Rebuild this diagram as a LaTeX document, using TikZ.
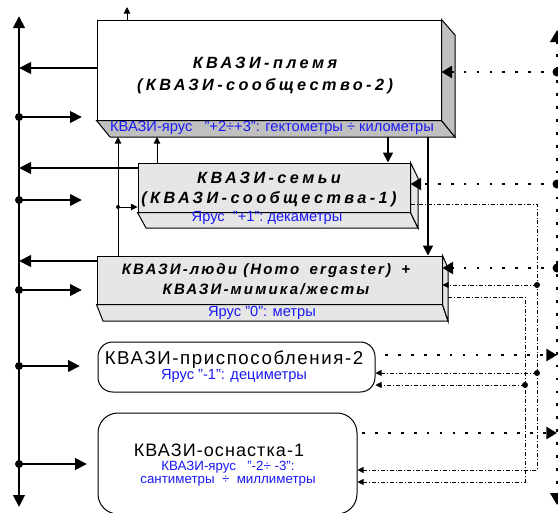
\documentclass[tikz,border=0pt]{standalone}
\usepackage{fontspec}
\setmainfont{Liberation Sans}
\newfontfamily\ttlfont[LetterSpace=21]{Liberation Sans}
\newfontfamily\ttlfontB[LetterSpace=14]{Liberation Sans}
\newfontfamily\bigfont[LetterSpace=8.5]{Liberation Sans}
\newfontfamily\bigfontB[LetterSpace=6]{Liberation Sans}
\usetikzlibrary{arrows.meta,fit,calc}
\definecolor{lblblue}{RGB}{25,25,245}
\definecolor{gA}{RGB}{192,192,192}
\definecolor{gB}{RGB}{230,230,230}
\begin{document}
\begin{tikzpicture}[x=0.75pt,y=-0.75pt,
  boxface/.style={draw, inner sep=0pt, line width=0.75pt},
  ttl/.style={font=\ttlfont\bfseries\itshape\fontsize{12.2}{16.5}\selectfont, align=center, inner sep=0pt},
  bigtxt/.style={font=\bigfont\fontsize{14}{15}\selectfont, inner sep=0pt},
  lbl/.style={text=lblblue, font=\fontsize{11}{12}\selectfont, inner sep=0pt, align=center},
  bigarr/.style={line width=2.2pt, -{Triangle[length=9pt,width=8.5pt]}},
  medarr/.style={line width=1.4pt, -{Triangle[length=7.5pt,width=7.5pt]}},
  thinarr/.style={line width=0.7pt, -{Triangle[length=5pt,width=5pt]}},
  dotl/.style={line width=2.1pt, dash pattern=on 2.1pt off 7.6pt},
  dotarr/.style={-{Triangle[length=8pt,width=9pt]}},
  dd/.style={line width=0.65pt, dash pattern=on 3pt off 1.5pt on 0.7pt off 1.5pt},
  ddarr/.style={-{Triangle[length=4.5pt,width=4.5pt]}}
]
\useasboundingbox (0,0) rectangle (558,512);

% ---------- box 1 ----------
\node[boxface, fill=white, fit={(97,20) (441,120)}] (b1) {};
\coordinate (b1bl) at (110,137);
\coordinate (b1br) at (455,137);
\coordinate (b1tr) at (455,35);
\draw[fill=gA, line width=0.75pt] (b1.south west) -- (b1.south east) -- (b1br) -- (b1bl) -- cycle;
\draw[fill=gA, line width=0.75pt] (b1.north east) -- (b1tr) -- (b1br) -- (b1.south east) -- cycle;
\node[ttl] (t1) at (265,76) {КВАЗИ-племя\\(КВАЗИ-сообщество-2)};
\node[lbl] (l1) at (272,128) {КВАЗИ-ярус\ \ \ "+2÷+3": гектометры ÷ километры};

% ---------- box 2 ----------
\node[boxface, fill=gB, fit={(138,163) (410,212)}] (b2) {};
\coordinate (b2bl) at (146,228);
\coordinate (b2br) at (418,228);
\coordinate (b2tr) at (418,178);
\draw[fill=gB, line width=0.75pt] (b2.south west) -- (b2.south east) -- (b2br) -- (b2bl) -- cycle;
\draw[fill=gB, line width=0.75pt] (b2.north east) -- (b2tr) -- (b2br) -- (b2.south east) -- cycle;
\node[ttl, font=\ttlfont\bfseries\itshape\fontsize{12.2}{15}\selectfont] (t2) at (269,190) {КВАЗИ-семьи\\(КВАЗИ-сообщества-1)};
\node[lbl] (l2) at (267,218) {Ярус\ \ "+1":\ декаметры};

% ---------- box 3 ----------
\node[boxface, fill=gB, fit={(97,256) (442,304)}] (b3) {};
\coordinate (b3bl) at (103,321);
\coordinate (b3br) at (448,321);
\coordinate (b3tr) at (448,268);
\draw[fill=gB, line width=0.75pt] (b3.south west) -- (b3.south east) -- (b3br) -- (b3bl) -- cycle;
\draw[fill=gB, line width=0.75pt] (b3.north east) -- (b3tr) -- (b3br) -- (b3.south east) -- cycle;
\node[ttl, font=\ttlfontB\bfseries\itshape\fontsize{11.3}{15}\selectfont] (t3) at (266,279) {КВАЗИ-люди (Homo\hspace{3pt} ergaster)\hspace{3pt} +\\КВАЗИ-мимика/жесты};
\node[lbl] (l3) at (262,313) {Ярус "0": метры};

% ---------- box 4 ----------
\node[boxface, rounded corners=11pt, fit={(98,342) (375,392)}] (b4) {};
\node[bigtxt] (t4) at (234,360) {КВАЗИ-приспособления-2};
\node[lbl] (l4) at (234,376) {Ярус "-1": дециметры};

% ---------- box 5 ----------
\node[boxface, rounded corners=15pt, fit={(98,413) (357,514)}] (b5) {};
\node[bigtxt, font=\bigfontB\fontsize{13.5}{15}\selectfont] (t5) at (219,450) {КВАЗИ-оснастка-1};
\node[lbl, font=\fontsize{10}{9.6}\selectfont] (l5) at (228,474) {КВАЗИ-ярус\ \ \ "-2÷ -3":\\сантиметры\ \ ÷\ \ миллиметры};

% ---------- left axis ----------
\coordinate (axT) at (19,16);
\coordinate (axB) at (19,507);
\draw[line width=2.2pt, {Triangle[length=9pt,width=8.5pt]}-{Triangle[length=9pt,width=8.5pt]}] (axT) -- (axB);
\coordinate (a1) at (19,68);
\coordinate (a2) at (19,168);
\coordinate (a3) at (19,261);
\draw[bigarr] (b1.west |- a1) -- (a1);
\draw[bigarr] (b2.west |- a2) -- (a2);
\draw[bigarr] (b3.west |- a3) -- (a3);
\coordinate (d1) at (19,117); \coordinate (e1) at (82,117);
\coordinate (d2) at (19,200); \coordinate (e2) at (82,200);
\coordinate (d3) at (19,290); \coordinate (e3) at (82,290);
\coordinate (d4) at (19,366); \coordinate (e4) at (80,366);
\coordinate (d5) at (19,464); \coordinate (e5) at (87,464);
\foreach \i in {1,...,5}{
  \fill (d\i) circle (4);
  \draw[bigarr] (d\i) -- (e\i);
}

% ---------- thin internal arrows ----------
\coordinate (v1) at (118,137);
\coordinate (v2) at (157,137);
\coordinate (v3) at (127,7);
\draw[thinarr] (v1 |- b3.north) -- (v1);
\draw[thinarr] (v2 |- b2.north) -- (v2);
\draw[thinarr] (v3 |- b1.north) -- (v3);
\coordinate (j0) at (118,207);
\fill (j0) circle (2);
\draw[thinarr] (j0) -- (b2.west |- j0);
\coordinate (m1) at (388,137);
\coordinate (m2) at (428,137);
\draw[medarr] (m1) -- (m1 |- b2.north);
\draw[medarr, line width=1.1pt] (m2) -- (m2 |- b3.north);

% ---------- right dotted axis ----------
\coordinate (rT) at (557,30);
\coordinate (rB) at (557,505);
\draw[dotl, {Triangle[length=9pt,width=10pt]}-{Triangle[length=9pt,width=10pt]}] (rT) -- (rB);
\coordinate (r1) at (557,72);
\coordinate (r2) at (557,184);
\coordinate (r3) at (557,268);
\coordinate (r4) at (557,355);
\coordinate (r5) at (557,433);
\foreach \i in {1,2,3}{\fill (r\i) circle (4.5);}
\draw[dotl, dotarr] (r1) -- (b1.east |- r1);
\draw[dotl, dotarr] (r2) -- (b2.east |- r2);
\draw[dotl, dotarr] (r3) -- (b3.east |- r3);
\coordinate (s4) at (385,355);
\coordinate (s5) at (362,433);
\draw[dotl, dotarr] (s4) -- (r4);
\draw[dotl, dotarr] (s5) -- (r5);

% ---------- dash-dot feedback lines ----------
\coordinate (k1) at (537,204);
\coordinate (k2) at (537,470);
\coordinate (k3) at (537,285);
\coordinate (k4) at (537,373);
\draw[dd, ddarr] (b2.east |- k1) -- (k1) -- (k2) -- (b5.east |- k2);
\fill (k3) circle (3);
\fill (k4) circle (3);
\draw[dd, ddarr] (k3) -- (b3.east |- k3);
\draw[dd, ddarr] (k4) -- (b4.east |- k4);
\coordinate (q1) at (525,297);
\coordinate (q2) at (525,482);
\coordinate (q3) at (525,385);
\draw[dd, ddarr] (b3br |- q1) -- (q1) -- (q2) -- (b5.east |- q2);
\fill (q3) circle (3);
\draw[dd, ddarr] (q3) -- (b4.east |- q3);
\end{tikzpicture}
\end{document}
